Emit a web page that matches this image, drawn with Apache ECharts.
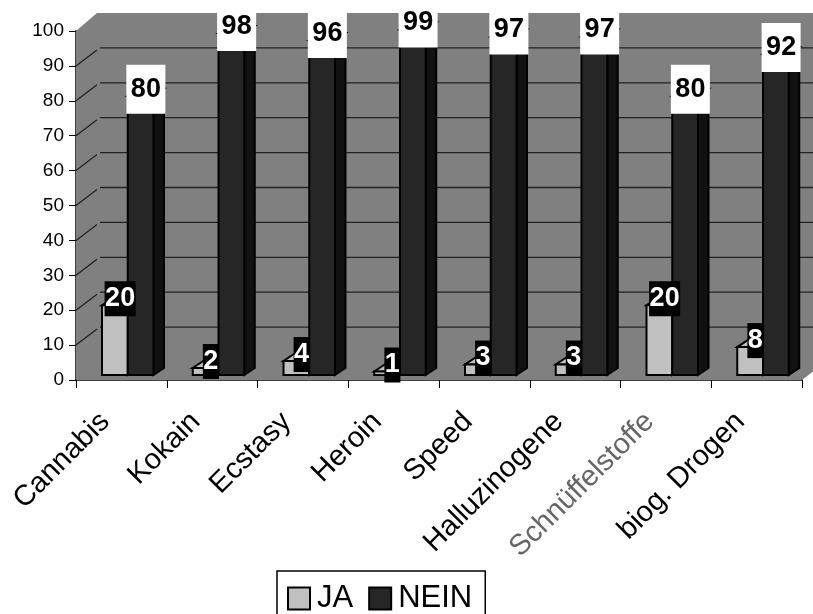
<!DOCTYPE html>
<html><head><meta charset="utf-8">
<style>html,body{margin:0;padding:0;background:#fff;overflow:hidden}#c{width:813px;height:614px}</style>
<script src="https://cdn.jsdelivr.net/npm/echarts@6/dist/echarts.min.js"></script>
</head><body><div id="c"></div>
<script>
const categories = ['Cannabis','Kokain','Ecstasy','Heroin','Speed','Halluzinogene','Schnüffelstoffe','biog. Drogen'];
const ja = [20,2,4,1,3,3,20,8];
const nein = [80,98,96,99,97,97,80,92];
const gridValues = [10,20,30,40,50,60,70,80,90];

const FONT = '"Liberation Sans", Arial, sans-serif';
const WALL_DX = 23, WALL_DY = 18;
const BAR_DX = 10.5, BAR_DY = 7, FLOOR_LIFT = 5;
const BAR_START = 26 / 90.75, BAR_W = 25.75 / 90.75;

const chart = echarts.init(document.getElementById('c'), null, {renderer:'canvas'});

function poly(points, fill, sw) {
  return {type:'polygon', shape:{points}, style:{fill, stroke:'#000', lineWidth:sw===undefined?2:sw, lineJoin:'miter'}};
}
function renderWall(params, api) {
  const cs = params.coordSys;
  const top = api.coord([0,100])[1], bot = api.coord([0,0])[1];
  const l = cs.x, r = cs.x + cs.width;
  return {type:'polygon', shape:{points:[
    [l,bot],[l,top],[l+WALL_DX-2,top-WALL_DY],[r+WALL_DX,top-WALL_DY],[r+WALL_DX,bot-WALL_DY],[r,bot]
  ]}, style:{fill:'#808080', stroke:null}};
}
function renderGrid(params, api) {
  const cs = params.coordSys;
  const y = api.coord([0, api.value(0)])[1];
  const l = cs.x, r = cs.x + cs.width;
  return {type:'group', children:[
    {type:'line', shape:{x1:l,y1:y,x2:l+21,y2:y-16}, style:{stroke:'#222',lineWidth:1.3}},
    {type:'line', shape:{x1:l+WALL_DX+1,y1:y-WALL_DY,x2:r+WALL_DX,y2:y-WALL_DY}, style:{stroke:'#222',lineWidth:1.3}}
  ]};
}
function geom(slot, params, api) {
  const i = api.value(0), v = api.value(1);
  const cs = params.coordSys;
  const band = cs.width / categories.length;
  const w = band * BAR_W;
  const x0 = cs.x + band * (i + BAR_START) + slot * w;
  return {v, x0, x1:x0+w, yT:api.coord([i,v])[1]-FLOOR_LIFT, yB:api.coord([i,0])[1]-FLOOR_LIFT};
}
function makeBar(slot, front, top, side) {
  return function(params, api) {
    const g = geom(slot, params, api);
    const {x0,x1,yT,yB} = g;
    return {type:'group', children:[
      poly([[x1,yB],[x1+BAR_DX,yB-BAR_DY],[x1+BAR_DX,yT-BAR_DY],[x1,yT]], side),
      poly([[x0,yT],[x1,yT],[x1+BAR_DX,yT-BAR_DY],[x0+BAR_DX,yT-BAR_DY]], top),
      poly([[x0,yB],[x1,yB],[x1,yT],[x0,yT]], front)
    ]};
  };
}
function makeLabel(slot, fill, bg, padY, padX) {
  return function(params, api) {
    const g = geom(slot, params, api);
    return {type:'text', style:{
      text:String(g.v), x:(g.x0+g.x1+BAR_DX)/2, y:g.yT-BAR_DY+0.5, align:'center', verticalAlign:'middle',
      font:'bold 27px '+FONT, fill, backgroundColor:bg, padding:[padY,padX,padY,padX]
    }};
  };
}
const jaData = ja.map((v,i)=>[i,v]);
const neinData = nein.map((v,i)=>[i,v]);

chart.setOption({
  animation:false,
  backgroundColor:'#fff',
  grid:{left:76,right:11,top:31,bottom:234,containLabel:false},
  legend:{
    data:['JA','NEIN'], left:277, top:571, orient:'horizontal', icon:'rect',
    itemWidth:22, itemHeight:22, itemGap:15, padding:[12,13,10,10],
    borderColor:'#000', borderWidth:1.5, backgroundColor:'#fff',
    textStyle:{fontFamily:FONT, fontSize:31, color:'#000', padding:[0,2,0,2]},
    selectedMode:false
  },
  xAxis:{
    type:'category', data:categories, boundaryGap:true,
    axisLine:{show:true,lineStyle:{color:'#000',width:1.5}},
    axisTick:{show:true,length:8,lineStyle:{color:'#000',width:1},alignWithLabel:false},
    axisLabel:{
      interval:0, rotate:45, margin:21, padding:[0,23,0,0], fontFamily:FONT, fontSize:29,
      color:(v)=> v==='Schnüffelstoffe' ? '#666' : '#000'
    },
    splitLine:{show:false}
  },
  yAxis:{
    type:'value', min:0, max:100, interval:10,
    axisLine:{show:true,lineStyle:{color:'#404040',width:2}},
    axisTick:{show:true,length:7,lineStyle:{color:'#000',width:1}},
    axisLabel:{margin:12,fontFamily:FONT,fontSize:19,color:'#000'},
    splitLine:{show:false}
  },
  series:[
    {type:'custom',name:'wall',silent:true,z:1,renderItem:renderWall,data:[[0]],encode:{y:0}},
    {type:'custom',name:'grid',silent:true,z:2,renderItem:renderGrid,data:gridValues.map(v=>[v]),encode:{y:0}},
    {type:'custom',name:'JA',z:3,renderItem:makeBar(0,'#c0c0c0','#c0c0c0','#969696'),
      itemStyle:{color:'#c0c0c0',borderColor:'#000',borderWidth:2.5},
      data:jaData,encode:{x:0,y:1}},
    {type:'custom',name:'NEIN',z:4,renderItem:makeBar(1,'#262626','#262626','#111111'),
      itemStyle:{color:'#262626',borderColor:'#000',borderWidth:2.5},
      data:neinData,encode:{x:0,y:1}},
    {type:'custom',name:'JA labels',silent:true,z:5,renderItem:makeLabel(0,'#fff','#000',4,0.5),data:jaData,encode:{x:0,y:1}},
    {type:'custom',name:'NEIN labels',silent:true,z:6,renderItem:makeLabel(1,'#000','#fff',11,4.5),data:neinData,encode:{x:0,y:1}}
  ]
});
</script></body></html>
